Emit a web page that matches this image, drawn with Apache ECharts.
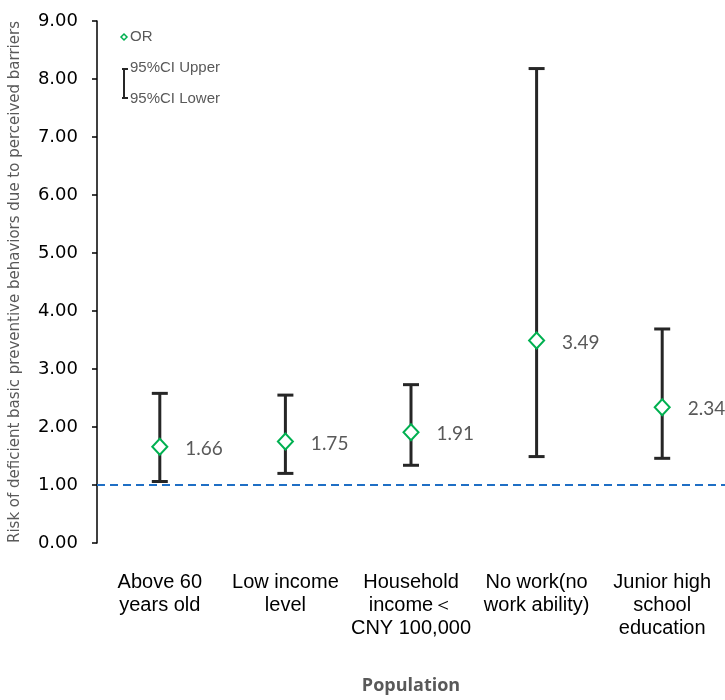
<!DOCTYPE html>
<html><head><meta charset="utf-8">
<script src="https://cdn.jsdelivr.net/npm/echarts@6/dist/echarts.min.js"></script>
<style>html,body{margin:0;padding:0;background:#fff;overflow:hidden}#c{width:100vw;height:100vh}</style>
</head><body><div id="c"></div>
<script>
const categories = ['Above 60\nyears old', 'Low income\nlevel', 'Household\nincome\uFF1C\nCNY 100,000', 'No work(no\nwork ability)', 'Junior high\nschool\neducation'];
const orValues = [1.66, 1.75, 1.91, 3.49, 2.34];
const ciLower = [1.06, 1.20, 1.34, 1.49, 1.46];
const ciUpper = [2.58, 2.55, 2.73, 8.18, 3.69];
const refLine = 1;

const chart = echarts.init(document.getElementById('c'), null, {renderer: 'canvas'});
const ciData = categories.map((c, i) => [i, ciLower[i], ciUpper[i]]);
const orData = categories.map((c, i) => [i, orValues[i]]);
const gray = '#595959';
const barColor = '#262626';

chart.setOption({
  animation: false,
  backgroundColor: '#fff',
  grid: {left: 97, top: 21, width: 630, height: 528, containLabel: false},
  xAxis: {
    type: 'category', data: categories, boundaryGap: true,
    axisLine: {show: false}, axisTick: {show: false},
    axisLabel: {interval: 0, margin: 28, color: '#000', fontSize: 20, lineHeight: 23, fontFamily: 'Liberation Sans', align: 'center'},
    name: 'Population', nameLocation: 'middle', nameGap: 134,
    nameTextStyle: {fontSize: 18, fontWeight: 'bold', color: gray, fontFamily: 'Open Sans'}
  },
  yAxis: {
    type: 'value', min: 0, max: 9, interval: 1,
    axisLine: {show: true, lineStyle: {color: '#000', width: 1.5}},
    axisTick: {show: true, length: 5, lineStyle: {color: '#000', width: 1.5}},
    splitLine: {show: false},
    axisLabel: {margin: 19, color: '#000', fontSize: 18, fontFamily: 'DejaVu Sans', formatter: v => v.toFixed(2)},
    name: 'Risk of deficient basic preventive behaviors due to perceived barriers',
    nameLocation: 'middle', nameGap: 74, nameRotate: 90,
    nameTextStyle: {fontSize: 15, color: gray, fontFamily: 'DejaVu Sans'}
  },
  series: [
    {
      type: 'custom', data: ciData, z: 2,
      renderItem: function (params, api) {
        const x = api.value(0);
        const lo = api.coord([x, api.value(1)]);
        const hi = api.coord([x, api.value(2)]);
        const hw = 8;
        const st = {stroke: barColor, lineWidth: 3};
        return {type: 'group', children: [
          {type: 'line', shape: {x1: lo[0], y1: lo[1], x2: hi[0], y2: hi[1]}, style: st},
          {type: 'line', shape: {x1: lo[0] - hw, y1: lo[1], x2: lo[0] + hw, y2: lo[1]}, style: st},
          {type: 'line', shape: {x1: hi[0] - hw, y1: hi[1], x2: hi[0] + hw, y2: hi[1]}, style: st}
        ]};
      },
      markLine: {
        silent: true, symbol: 'none', label: {show: false},
        lineStyle: {color: '#1f6fc5', type: [8, 5], width: 2},
        data: [{yAxis: refLine}]
      }
    },
    {
      type: 'scatter', data: orData, z: 3,
      symbol: 'diamond', symbolSize: [15, 16],
      itemStyle: {color: '#fff', borderColor: '#00b050', borderWidth: 2, opacity: 1},
      label: {show: true, position: 'right', distance: 17, offset: [0, 2], fontSize: 19, color: gray, fontFamily: 'Lato', formatter: p => p.value[1].toFixed(2)}
    }
  ],
  graphic: [
    {type: 'polygon', shape: {points: [[124, 34], [127, 37], [124, 40], [121, 37]]}, style: {fill: '#fff', stroke: '#00b050', lineWidth: 1.5}},
    {type: 'text', x: 130, y: 37, style: {text: 'OR', fontSize: 15, fill: gray, fontFamily: 'Liberation Sans', verticalAlign: 'middle'}},
    {type: 'line', shape: {x1: 124, y1: 69, x2: 124, y2: 98}, style: {stroke: barColor, lineWidth: 2}},
    {type: 'line', shape: {x1: 122, y1: 69, x2: 128, y2: 69}, style: {stroke: barColor, lineWidth: 2}},
    {type: 'line', shape: {x1: 122, y1: 98, x2: 128, y2: 98}, style: {stroke: barColor, lineWidth: 2}},
    {type: 'text', x: 130, y: 68, style: {text: '95%CI Upper', fontSize: 15, fill: gray, fontFamily: 'Liberation Sans', verticalAlign: 'middle'}},
    {type: 'text', x: 130, y: 99, style: {text: '95%CI Lower', fontSize: 15, fill: gray, fontFamily: 'Liberation Sans', verticalAlign: 'middle'}}
  ]
});
</script></body></html>
